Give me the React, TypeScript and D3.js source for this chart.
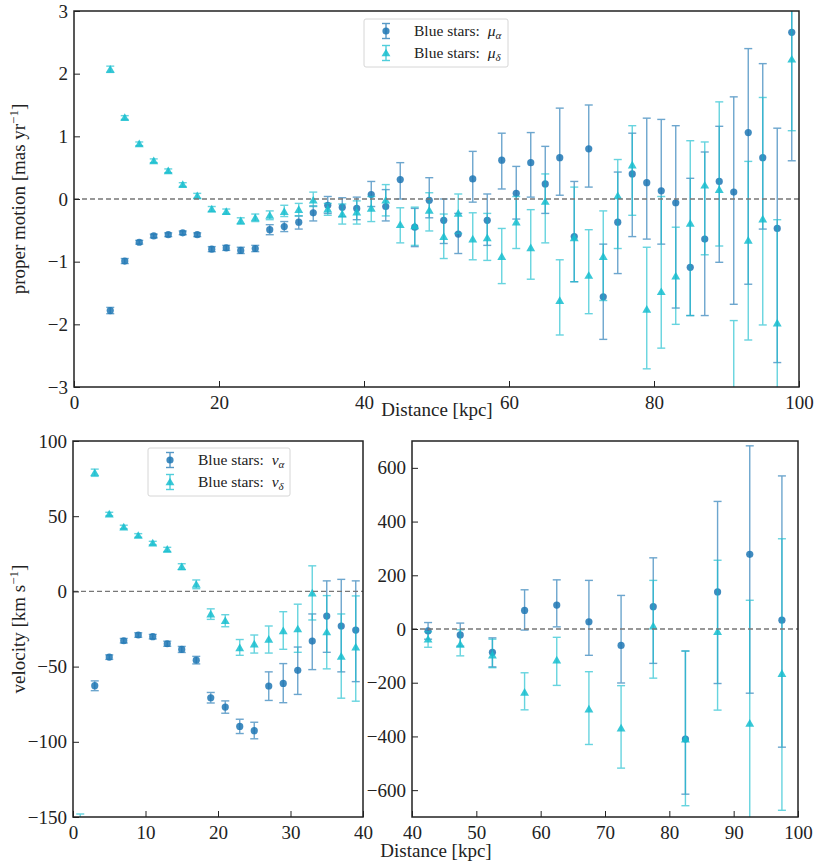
import { useEffect, useRef } from "react"
import * as d3 from "d3"

// ---- top panel: proper motion vs distance ----
const topDist = [5, 7, 9, 11, 13, 15, 17, 19, 21, 23, 25, 27, 29, 31, 33, 35, 37, 39, 41, 43, 45, 47, 49, 51, 53, 55, 57, 59, 61, 63, 65, 67, 69, 71, 73, 75, 77, 79, 81, 83, 85, 87, 89, 91, 93, 95, 97, 99]
const muAlpha = [-1.78, -0.99, -0.69, -0.59, -0.57, -0.54, -0.57, -0.8, -0.78, -0.82, -0.79, -0.49, -0.44, -0.37, -0.22, -0.1, -0.13, -0.15, 0.07, -0.12, 0.31, -0.45, -0.02, -0.34, -0.56, 0.32, -0.34, 0.62, 0.09, 0.58, 0.24, 0.66, -0.6, 0.8, -1.56, -0.37, 0.4, 0.26, 0.13, -0.06, -1.09, -0.64, 0.28, 0.11, 1.06, 0.66, -0.47, 2.66]
const muAlphaLo = [-1.83, -1.03, -0.72, -0.62, -0.6, -0.57, -0.6, -0.84, -0.82, -0.87, -0.84, -0.57, -0.52, -0.48, -0.35, -0.23, -0.28, -0.33, -0.12, -0.35, 0.0, -0.76, -0.3, -0.71, -0.87, -0.05, -0.74, 0.16, -0.32, 0.03, -0.23, 0.06, -1.32, 0.19, -2.24, -1.19, -0.6, -0.64, -0.72, -1.74, -1.86, -1.86, -1.01, -1.68, -1.36, -0.48, -2.61, 0.61]
const muAlphaHi = [-1.73, -0.95, -0.66, -0.56, -0.54, -0.51, -0.54, -0.76, -0.74, -0.77, -0.74, -0.41, -0.36, -0.27, -0.11, 0.04, 0.02, 0.03, 0.28, 0.15, 0.58, -0.15, 0.34, 0.0, -0.23, 0.76, 0.08, 1.05, 0.52, 1.06, 0.84, 1.45, 0.28, 1.5, -0.72, 0.43, 1.05, 1.29, 1.27, 1.17, 0.33, 0.75, 1.16, 1.63, 2.4, 2.16, 1.13, 3.5]
const muDelta = [2.07, 1.3, 0.88, 0.61, 0.45, 0.23, 0.05, -0.16, -0.2, -0.35, -0.3, -0.26, -0.2, -0.17, -0.02, -0.16, -0.24, -0.21, -0.15, -0.02, -0.41, -0.43, -0.18, -0.6, -0.23, -0.64, -0.62, -0.92, -0.37, -0.78, -0.04, -1.62, -0.62, -1.22, -0.92, 0.05, 0.54, -1.76, -1.48, -1.23, -0.39, 0.22, 0.15, -3.6, -0.66, -0.32, -1.98, 2.23]
const muDeltaLo = [2.02, 1.27, 0.85, 0.58, 0.42, 0.2, 0.01, -0.2, -0.24, -0.4, -0.36, -0.33, -0.28, -0.27, -0.12, -0.26, -0.4, -0.4, -0.36, -0.27, -0.7, -0.74, -0.51, -0.95, -0.55, -0.97, -0.98, -1.35, -0.79, -1.28, -0.7, -2.17, -1.32, -1.83, -1.62, -0.79, -0.26, -2.71, -2.38, -2.0, -1.86, -0.89, -0.75, -4.5, -2.25, -2.01, -3.5, 1.09]
const muDeltaHi = [2.12, 1.33, 0.91, 0.64, 0.48, 0.26, 0.09, -0.12, -0.16, -0.3, -0.24, -0.19, -0.1, -0.07, 0.11, -0.07, -0.08, -0.03, 0.04, 0.23, -0.14, -0.13, 0.1, -0.24, 0.08, -0.22, -0.23, -0.47, 0.04, -0.17, 0.4, -0.97, 0.19, -0.49, -0.19, 0.63, 1.17, -0.77, 0.04, -0.45, 0.93, 0.91, 1.55, -1.94, 0.6, 1.62, -0.33, 3.4]
const topXTicks = [0, 20, 40, 60, 80, 100]
const topYTicks = [-3, -2, -1, 0, 1, 2, 3]

// ---- bottom left: velocity, inner distances ----
const innerDistA = [3, 5, 7, 9, 11, 13, 15, 17, 19, 21, 23, 25, 27, 29, 31, 33, 35, 37, 39]
const vAlphaIn = [-62.7, -43.7, -32.8, -29.0, -30.1, -34.8, -38.6, -45.7, -70.7, -76.9, -89.8, -92.6, -62.9, -61.2, -52.5, -33.0, -16.4, -23.0, -25.7]
const vAlphaInLo = [-66, -45.2, -34.3, -30.5, -31.6, -36.5, -40.6, -48.2, -74.2, -81, -94.5, -98, -72.5, -74, -68.5, -52, -40.5, -53.5, -60]
const vAlphaInHi = [-59.5, -42.2, -31.3, -27.5, -28.6, -33.1, -36.6, -43.2, -67.2, -72.8, -85, -87, -53.5, -48, -37, -15, 7, 8, 7]
const innerDistD = [1, 3, 5, 7, 9, 11, 13, 15, 17, 19, 21, 23, 25, 27, 29, 31, 33, 35, 37, 39]
const vDeltaIn = [-160, 78.9, 51.4, 42.8, 37.2, 32.1, 27.9, 16.4, 4.7, -15.1, -19.5, -37.5, -35.0, -31.9, -26.2, -25.0, -1.1, -27.0, -43.2, -37.0]
const vDeltaInLo = [-172, 76.5, 50.2, 41.6, 36, 30.9, 26.5, 14.4, 1.8, -18.6, -23.5, -42.5, -41, -41, -38.5, -40.5, -19, -51.5, -71, -73]
const vDeltaInHi = [-148, 81.3, 52.6, 44, 38.4, 33.3, 29.3, 18.4, 7.6, -11.6, -15.5, -32, -29, -23, -13.5, -8.5, 17, -2.8, -15, -3]
const innerXTicks = [0, 10, 20, 30, 40]
const innerYTicks = [-150, -100, -50, 0, 50, 100]

// ---- bottom right: velocity, outer distances ----
const outerDist = [42.5, 47.5, 52.5, 57.5, 62.5, 67.5, 72.5, 77.5, 82.5, 87.5, 92.5, 97.5]
const vAlphaOut = [-7, -22, -87, 69, 89, 27, -61, 83, -410, 138, 278, 33]
const vAlphaOutLo = [-38, -64, -141, -4, 8, -98, -201, -128, -615, -203, -239, -440]
const vAlphaOutHi = [24, 22, -33, 146, 183, 181, 125, 265, -82, 475, 682, 570]
const vDeltaOut = [-38, -57, -97, -236, -116, -298, -369, 11, -410, -10, -351, -166]
const vDeltaOutLo = [-68, -100, -144, -301, -210, -430, -518, -183, -658, -302, -800, -675]
const vDeltaOutHi = [-10, -3, -38, -163, -31, -159, -211, 181, -82, 256, 107, 336]
const outerXTicks = [40, 50, 60, 70, 80, 90, 100]
const outerYTicks = [-600, -400, -200, 0, 200, 400, 600]

const BLUE = "#1f77b4"
const CYAN = "#17becf"
const SERIF = '"Liberation Serif", "DejaVu Serif", serif'

const minus = (d: number) => (d < 0 ? "\u2212" + Math.abs(d) : String(d))

function zip(xs: number[], ys: number[], lo: number[], hi: number[]) {
  return xs.map((x, i) => ({ x, y: ys[i], lo: lo[i], hi: hi[i] }))
}

function drawSeries(g: any, pts: any[], x: any, y: any, color: string, shape: string) {
  const s = g.append("g")
  const bars = s.selectAll("g.eb").data(pts).enter().append("g").attr("opacity", 0.65)
  bars.append("line")
    .attr("x1", (d: any) => x(d.x)).attr("x2", (d: any) => x(d.x))
    .attr("y1", (d: any) => y(d.lo)).attr("y2", (d: any) => y(d.hi))
    .attr("stroke", color).attr("stroke-width", 1.4)
  for (const k of ["lo", "hi"]) {
    bars.append("line")
      .attr("x1", (d: any) => x(d.x) - 4).attr("x2", (d: any) => x(d.x) + 4)
      .attr("y1", (d: any) => y(d[k])).attr("y2", (d: any) => y(d[k]))
      .attr("stroke", color).attr("stroke-width", 1.4)
  }
  if (shape === "circle") {
    s.selectAll("circle").data(pts).enter().append("circle")
      .attr("cx", (d: any) => x(d.x)).attr("cy", (d: any) => y(d.y))
      .attr("r", 3.6).attr("fill", color).attr("opacity", 0.85)
  } else {
    const tri = d3.symbol().type(d3.symbolTriangle).size(34)
    s.selectAll("path.tri").data(pts).enter().append("path")
      .attr("transform", (d: any) => `translate(${x(d.x)},${y(d.y) + 0.8})`)
      .attr("d", tri()).attr("fill", color).attr("opacity", 0.85)
  }
}

function drawPanel(svg: any, id: string, box: any, xDom: number[], yDom: number[], xTicks: number[], yTicks: number[], series: any[]) {
  const x = d3.scaleLinear().domain(xDom).range([box.x0, box.x1])
  const y = d3.scaleLinear().domain(yDom).range([box.y1, box.y0])

  svg.append("clipPath").attr("id", id).append("rect")
    .attr("x", box.x0).attr("y", box.y0)
    .attr("width", box.x1 - box.x0).attr("height", box.y1 - box.y0)

  const plot = svg.append("g").attr("clip-path", `url(#${id})`)
  series.forEach(s => drawSeries(plot, s.pts, x, y, s.color, s.shape))

  // zero line
  plot.append("line")
    .attr("x1", box.x0).attr("x2", box.x1)
    .attr("y1", y(0)).attr("y2", y(0))
    .attr("stroke", "#777").attr("stroke-width", 1.3).attr("stroke-dasharray", "5,3")

  const xAxis = svg.append("g").attr("transform", `translate(0,${box.y1})`)
    .call(d3.axisBottom(x).tickValues(xTicks).tickSize(-6).tickPadding(9).tickFormat(minus as any))
  const yAxis = svg.append("g").attr("transform", `translate(${box.x0},0)`)
    .call(d3.axisLeft(y).tickValues(yTicks).tickSize(-6).tickPadding(6).tickFormat(minus as any))
  for (const ax of [xAxis, yAxis]) {
    ax.select(".domain").remove()
    ax.attr("font-family", SERIF).attr("font-size", 19)
    ax.selectAll(".tick line").attr("stroke", "#222").attr("stroke-width", 1)
    ax.selectAll(".tick text").attr("fill", "#222")
  }

  svg.append("rect")
    .attr("x", box.x0).attr("y", box.y0)
    .attr("width", box.x1 - box.x0).attr("height", box.y1 - box.y0)
    .attr("fill", "none").attr("stroke", "#222").attr("stroke-width", 1.5)
}

function legend(svg: any, bx: number, by: number, w: number, sym: string) {
  const g = svg.append("g")
  g.append("rect").attr("x", bx).attr("y", by).attr("width", w).attr("height", 48).attr("rx", 2)
    .attr("fill", "white").attr("fill-opacity", 0.85).attr("stroke", "#d6d6d6")
  const rows = [
    { color: BLUE, shape: "circle", sub: "\u03b1" },
    { color: CYAN, shape: "tri", sub: "\u03b4" },
  ]
  rows.forEach((r, i) => {
    const cy = by + 12 + i * 22
    const hx = bx + 22
    const h = g.append("g").attr("opacity", 0.75)
    h.append("line").attr("x1", hx).attr("x2", hx).attr("y1", cy - 7.5).attr("y2", cy + 7.5).attr("stroke", r.color).attr("stroke-width", 1.4)
    h.append("line").attr("x1", hx - 4).attr("x2", hx + 4).attr("y1", cy - 7.5).attr("y2", cy - 7.5).attr("stroke", r.color).attr("stroke-width", 1.4)
    h.append("line").attr("x1", hx - 4).attr("x2", hx + 4).attr("y1", cy + 7.5).attr("y2", cy + 7.5).attr("stroke", r.color).attr("stroke-width", 1.4)
    if (r.shape === "circle") g.append("circle").attr("cx", hx).attr("cy", cy).attr("r", 3.6).attr("fill", r.color).attr("opacity", 0.85)
    else g.append("path").attr("transform", `translate(${hx},${cy + 0.8})`).attr("d", d3.symbol().type(d3.symbolTriangle).size(34)()).attr("fill", r.color).attr("opacity", 0.85)
    const t = g.append("text").attr("x", bx + 50).attr("y", cy + 5).attr("font-family", SERIF).attr("font-size", 15.5).attr("fill", "#222")
    t.append("tspan").text("Blue stars:\u2002")
    t.append("tspan").attr("font-style", "italic").text(sym)
    t.append("tspan").attr("font-style", "italic").attr("font-size", 11).attr("dy", 3).text(r.sub)
  })
}

export default function App() {
  const ref = useRef<SVGSVGElement>(null)

  useEffect(() => {
    document.body.style.margin = "0"
    const svg = d3.select(ref.current)
    svg.selectAll("*").remove()
    svg.append("rect").attr("width", 817).attr("height", 867).attr("fill", "white")

    drawPanel(svg, "clipTop", { x0: 74, x1: 799, y0: 11, y1: 387 }, [0, 100], [-3, 3], topXTicks, topYTicks, [
      { pts: zip(topDist, muAlpha, muAlphaLo, muAlphaHi), color: BLUE, shape: "circle" },
      { pts: zip(topDist, muDelta, muDeltaLo, muDeltaHi), color: CYAN, shape: "tri" },
    ])
    drawPanel(svg, "clipBL", { x0: 73, x1: 363, y0: 441, y1: 817 }, [0, 40], [-150, 100], innerXTicks, innerYTicks, [
      { pts: zip(innerDistA, vAlphaIn, vAlphaInLo, vAlphaInHi), color: BLUE, shape: "circle" },
      { pts: zip(innerDistD, vDeltaIn, vDeltaInLo, vDeltaInHi), color: CYAN, shape: "tri" },
    ])
    drawPanel(svg, "clipBR", { x0: 412, x1: 798, y0: 441, y1: 817 }, [40, 100], [-700, 700], outerXTicks, outerYTicks, [
      { pts: zip(outerDist, vAlphaOut, vAlphaOutLo, vAlphaOutHi), color: BLUE, shape: "circle" },
      { pts: zip(outerDist, vDeltaOut, vDeltaOutLo, vDeltaOutHi), color: CYAN, shape: "tri" },
    ])

    legend(svg, 364, 19, 144, "\u03bc")
    legend(svg, 148, 448, 142, "v")

    const lab = (x: number, y: number, rot: number) =>
      svg.append("text").attr("transform", `translate(${x},${y}) rotate(${rot})`)
        .attr("text-anchor", "middle").attr("font-family", SERIF).attr("font-size", 19).attr("fill", "#222")

    lab(437, 416, 0).text("Distance [kpc]")
    lab(436, 857, 0).text("Distance [kpc]")

    const t1 = lab(25, 199, -90)
    t1.append("tspan").text("proper motion [mas yr")
    t1.append("tspan").attr("font-size", 13).attr("dy", -7).text("\u22121")
    t1.append("tspan").attr("dy", 7).text("]")

    const t2 = lab(25, 629, -90)
    t2.append("tspan").text("velocity [km s")
    t2.append("tspan").attr("font-size", 13).attr("dy", -7).text("\u22121")
    t2.append("tspan").attr("dy", 7).text("]")
  }, [])

  return <svg ref={ref} width={817} height={867} style={{ display: "block" }} />
}
